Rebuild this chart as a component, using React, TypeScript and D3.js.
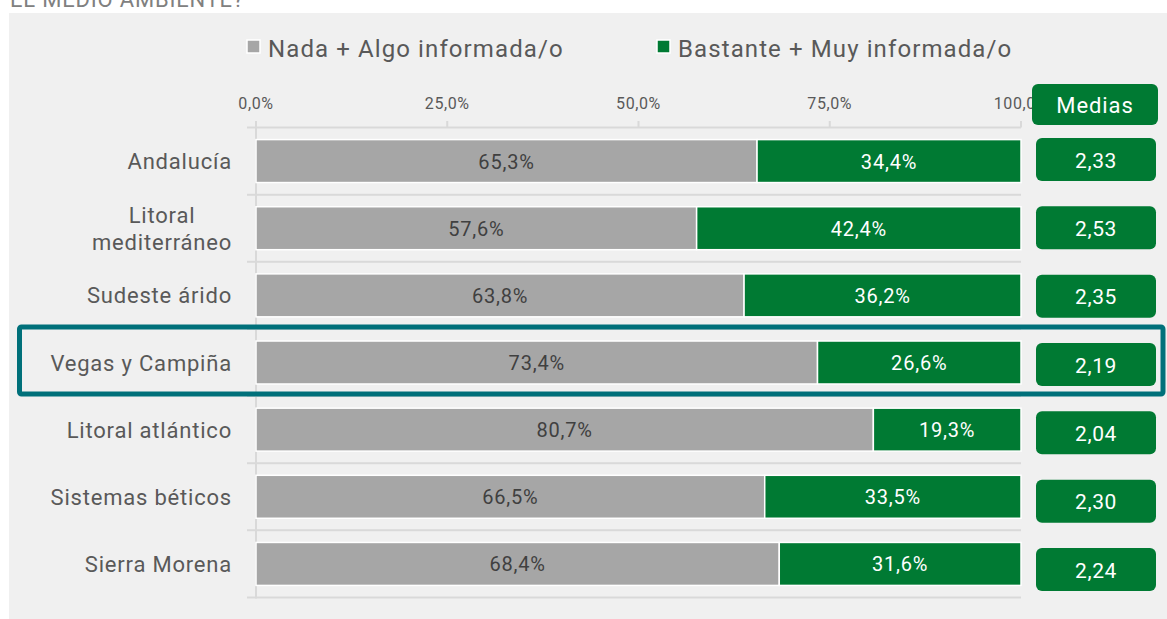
import React, { useEffect, useRef } from "react";
import * as d3 from "d3";

const categories = [
  "Andalucía",
  "Litoral mediterráneo",
  "Sudeste árido",
  "Vegas y Campiña",
  "Litoral atlántico",
  "Sistemas béticos",
  "Sierra Morena",
];
const categoryLines: Record<string, string[]> = {
  "Litoral mediterráneo": ["Litoral", "mediterráneo"],
};
const nadaAlgo = [65.3, 57.6, 63.8, 73.4, 80.7, 66.5, 68.4];
const bastanteMuy = [34.4, 42.4, 36.2, 26.6, 19.3, 33.5, 31.6];
const medias = [2.33, 2.53, 2.35, 2.19, 2.04, 2.3, 2.24];
const tickValues = [0, 25, 50, 75, 100];
const seriesNames = ["Nada + Algo informada/o", "Bastante + Muy informada/o"];
const highlighted = "Vegas y Campiña";
const titleText = "EL MEDIO AMBIENTE?";
const mediasHeader = "Medias";

const GRAY = "#a6a6a6";
const GREEN = "#007a33";
const TEAL = "#00707a";
const FONT = "Roboto, 'DejaVu Sans', sans-serif";

const fmt = (v: number, d: number) => v.toFixed(d).replace(".", ",");

export default function App() {
  const ref = useRef<SVGSVGElement | null>(null);

  useEffect(() => {
    document.body.style.margin = "0";
    document.body.style.overflow = "hidden";
    const svg = d3.select(ref.current);
    svg.selectAll("*").remove();

    const W = 1167, H = 619;
    svg.append("rect").attr("x", 0).attr("y", 0).attr("width", W).attr("height", H).attr("fill", "#ffffff");
    svg.append("rect").attr("x", 9).attr("y", 13).attr("width", W - 9).attr("height", H - 13).attr("fill", "#f0f0f0");

    // title fragment (cut off at the top, as in the original)
    svg.append("text").attr("x", 10).attr("y", 6.5).attr("font-family", FONT).attr("font-size", 22)
      .attr("letter-spacing", 0.8).attr("fill", "#808080").text(titleText);

    const x = d3.scaleLinear().domain([0, 100]).range([256, 1021]);
    const y = d3.scaleBand<string>().domain(categories).range([127.5, 597.5]).paddingInner(0.36).paddingOuter(0.18);
    const step = y.step();
    const slotTop = (c: string) => (y(c) as number) - step * 0.18;

    // legend
    const legend = svg.append("g").attr("font-family", FONT);
    const legX = [247, 657];
    [GRAY, GREEN].forEach((col, i) => {
      legend.append("rect").attr("x", legX[i]).attr("y", 40).attr("width", 13).attr("height", 13)
        .attr("fill", col).attr("stroke", "#ffffff").attr("stroke-width", 1.5);
      legend.append("text").attr("x", legX[i] + 21).attr("y", 56.5).attr("font-size", 24)
        .attr("letter-spacing", 1.1).attr("fill", "#595959").text(seriesNames[i]);
    });

    // grid lines
    const grid = svg.append("g");
    d3.range(categories.length + 1).forEach((i) => {
      const yy = 127.5 + i * step;
      grid.append("line").attr("x1", 247).attr("x2", x(100)).attr("y1", yy).attr("y2", yy)
        .attr("stroke", "#d9d9d9").attr("stroke-width", 2);
    });
    grid.append("line").attr("x1", x(0)).attr("x2", x(0)).attr("y1", 121).attr("y2", 598.5)
      .attr("stroke", "#d9d9d9").attr("stroke-width", 2);
    tickValues.forEach((t) => {
      grid.append("line").attr("x1", x(t)).attr("x2", x(t)).attr("y1", 121).attr("y2", 127.5)
        .attr("stroke", "#d9d9d9").attr("stroke-width", 2);
      svg.append("text").attr("x", x(t)).attr("y", 108.5).attr("text-anchor", "middle")
        .attr("font-family", FONT).attr("font-size", 16).attr("letter-spacing", 0.6).attr("fill", "#595959")
        .text(fmt(t, 1) + "%");
    });

    // bars
    const bars = svg.append("g").attr("font-family", FONT);
    categories.forEach((c, i) => {
      const total = nadaAlgo[i] + bastanteMuy[i];
      const a = (nadaAlgo[i] / total) * 100;
      const yy = y(c) as number;
      const bh = y.bandwidth();
      bars.append("rect").attr("x", x(0)).attr("y", yy).attr("width", x(a) - x(0)).attr("height", bh)
        .attr("fill", GRAY).attr("stroke", "#ffffff").attr("stroke-width", 1.5);
      bars.append("rect").attr("x", x(a)).attr("y", yy).attr("width", x(100) - x(a)).attr("height", bh)
        .attr("fill", GREEN).attr("stroke", "#ffffff").attr("stroke-width", 1.5);
      bars.append("text").attr("x", (x(0) + x(a)) / 2).attr("y", yy + bh / 2 + 7.5).attr("text-anchor", "middle")
        .attr("font-size", 20).attr("letter-spacing", 0.8).attr("fill", "#404040").text(fmt(nadaAlgo[i], 1) + "%");
      bars.append("text").attr("x", (x(a) + x(100)) / 2).attr("y", yy + bh / 2 + 7.5).attr("text-anchor", "middle")
        .attr("font-size", 20).attr("letter-spacing", 0.8).attr("fill", "#ffffff").text(fmt(bastanteMuy[i], 1) + "%");

      // category label
      const lines = categoryLines[c] || [c];
      const cy = yy + bh / 2;
      const g = svg.append("g").attr("font-family", FONT).attr("font-size", 22).attr("fill", "#595959");
      const lh = 27;
      const texts = lines.map((l, j) =>
        g.append("text").attr("y", cy + 8 + (j - (lines.length - 1) / 2) * lh).attr("letter-spacing", 0.8).text(l)
      );
      const widths = texts.map((t) => (t.node() as SVGTextElement).getComputedTextLength());
      const maxW = Math.max(...widths);
      texts.forEach((t) => t.attr("text-anchor", "middle").attr("x", 232 - maxW / 2));
    });

    // Medias header
    svg.append("rect").attr("x", 1032).attr("y", 84).attr("width", 126).attr("height", 41).attr("rx", 6)
      .attr("fill", GREEN);
    svg.append("text").attr("x", 1095).attr("y", 112.5).attr("text-anchor", "middle").attr("font-family", FONT)
      .attr("font-size", 22).attr("letter-spacing", 0.9).attr("fill", "#ffffff").text(mediasHeader);

    // Medias boxes
    const my = d3.scalePoint<string>().domain(categories).range([159.5, 569.5]);
    categories.forEach((c, i) => {
      const cy = my(c) as number;
      svg.append("rect").attr("x", 1036).attr("y", cy - 21.5).attr("width", 120).attr("height", 43).attr("rx", 6)
        .attr("fill", GREEN);
      svg.append("text").attr("x", 1096).attr("y", cy + 8).attr("text-anchor", "middle").attr("font-family", FONT)
        .attr("font-size", 21).attr("letter-spacing", 0.6).attr("fill", "#ffffff").text(fmt(medias[i], 2));
    });

    // highlight
    svg.append("rect").attr("x", 19.5).attr("y", slotTop(highlighted) - 2).attr("width", 1143.5).attr("height", step)
      .attr("rx", 2).attr("fill", "none").attr("stroke", TEAL).attr("stroke-width", 5);
  }, []);

  return <svg ref={ref} width={1167} height={619} style={{ position: "absolute", left: 0, top: 0, display: "block" }} />;
}
